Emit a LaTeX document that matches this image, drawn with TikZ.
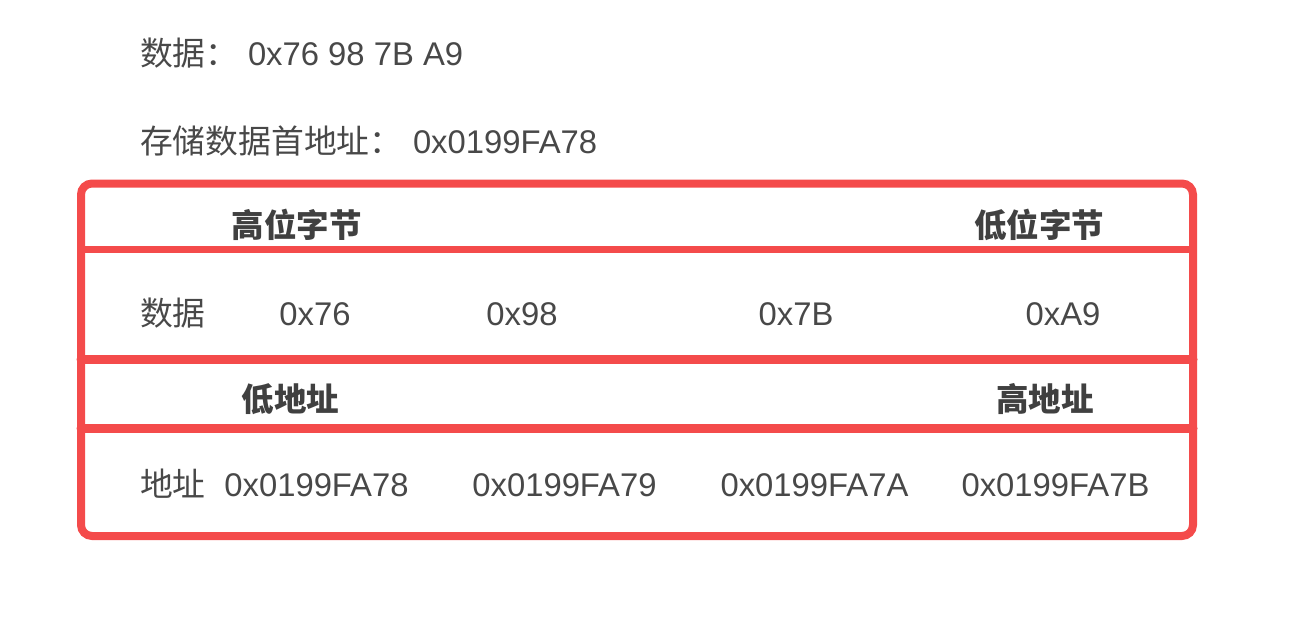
\documentclass[tikz,border=0pt]{standalone}
\usepackage{fontspec}
\setmainfont{Liberation Sans}
\newfontfamily\cjk{Noto Sans CJK SC}
\definecolor{boxred}{RGB}{244,75,75}
\definecolor{txt}{RGB}{72,72,72}
\definecolor{txtb}{RGB}{64,64,64}
\begin{document}
\begin{tikzpicture}[x=1pt,y=-1pt,
  base/.style={inner sep=0pt,outer sep=0pt,text=txt,font=\fontsize{32.8}{38}\selectfont},
  lbl/.style={base,anchor=base west},
  cell/.style={base,anchor=base},
  head/.style={inner sep=0pt,outer sep=0pt,text=txtb,font=\fontsize{32.5}{38}\selectfont\cjk\bfseries,anchor=center},
  frame/.style={draw=boxred,line width=8pt,rounded corners=11pt},
  sep/.style={draw=boxred,line cap=round}]
\useasboundingbox (0,0) rectangle (1302,632);
% header lines
\node[lbl] (dlab) at (140,65) {\cjk 数据：};
\node[lbl] (dval) at (248,65) {0x76 98 7B A9};
\node[lbl] (alab) at (140,153) {\cjk 存储数据首地址：};
\node[lbl] (aval) at (413,153) {0x0199FA78};
% frame
\draw[frame] (81,183.5) rectangle (1193,536);
\coordinate (s1l) at (81,249); \coordinate (s1r) at (1193,249);
\coordinate (s2l) at (81,359); \coordinate (s2r) at (1193,359);
\coordinate (s3l) at (81,428); \coordinate (s3r) at (1193,428);
\draw[sep,line width=7pt] (s1l) -- (s1r);
\draw[sep,line width=9pt] (s2l) -- (s2r);
\draw[sep,line width=9pt] (s3l) -- (s3r);
% byte headings
\node[head] (hib) at (296.5,225) {高位字节};
\node[head] (lob) at (1039,225) {低位字节};
% data row
\node[lbl] (drow) at (140,325) {\cjk 数据};
\node[cell] (d1) at (315,325) {0x76};
\node[cell] (d2) at (522,325) {0x98};
\node[cell] (d3) at (796,325) {0x7B};
\node[cell] (d4) at (1063,325) {0xA9};
% address headings
\node[head] (loa) at (290.5,399) {低地址};
\node[head] (hia) at (1045,399) {高地址};
% address row
\node[lbl] (arow) at (140,496) {\cjk 地址};
\node[cell] (a1) at (316.5,496) {0x0199FA78};
\node[cell] (a2) at (564.5,496) {0x0199FA79};
\node[cell] (a3) at (814.5,496) {0x0199FA7A};
\node[cell] (a4) at (1055.5,496) {0x0199FA7B};
\end{tikzpicture}
\end{document}
